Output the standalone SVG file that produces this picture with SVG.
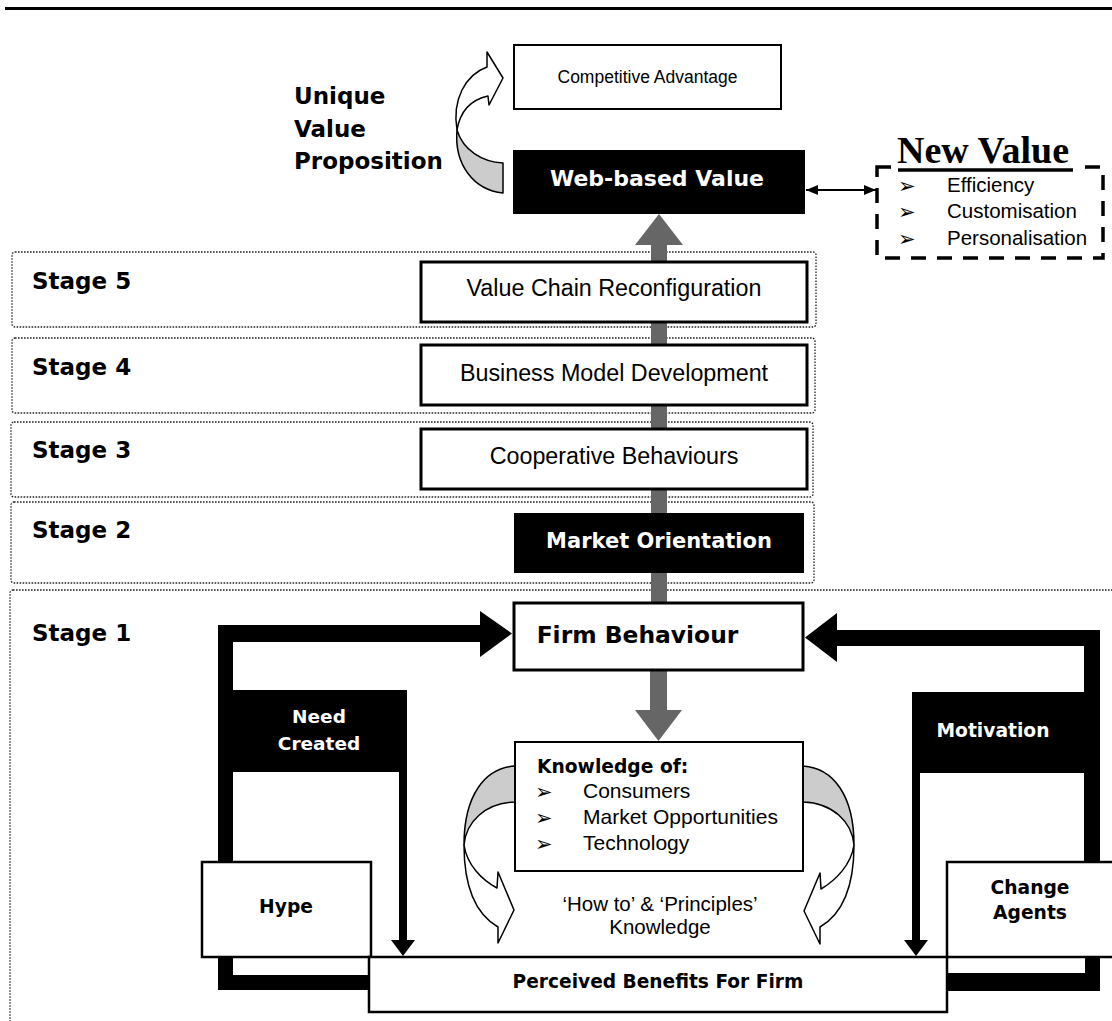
<svg xmlns="http://www.w3.org/2000/svg" width="1112" height="1021" viewBox="0 0 1112 1021">
<style>
.stage{fill:none;stroke:#222;stroke-width:1.3;stroke-dasharray:1.6 1.4}
.box{fill:#fff;stroke:#000;stroke-width:3}
.thin{fill:#fff;stroke:#000;stroke-width:2}
.blk{fill:#000}
.bold{font-family:"DejaVu Sans",Verdana,sans-serif;font-weight:bold}
.reg{font-family:"Liberation Sans",Arial,sans-serif}
.bul{font-family:"DejaVu Sans",sans-serif;font-size:21px}
.wt{fill:#fff}
.gray{fill:#666}
.curv{stroke:#000;stroke-width:1.5;stroke-linejoin:round}
</style>
<defs>
<marker id="ah" viewBox="0 0 12 10" refX="12" refY="5" markerWidth="12" markerHeight="10" markerUnits="userSpaceOnUse" orient="auto-start-reverse">
<path d="M0,0 L12,5 L0,10 z" fill="#000"/>
</marker>
<clipPath id="nvclip"><rect x="880" y="172" width="222" height="74"/></clipPath>
</defs>

<line x1="5" y1="8.5" x2="1112" y2="8.5" stroke="#000" stroke-width="3"/>

<g id="stages">
<rect class="stage" x="12" y="252" width="804" height="75" rx="3"/>
<rect class="stage" x="12" y="338" width="803" height="75" rx="3"/>
<rect class="stage" x="11" y="422" width="802" height="75" rx="3"/>
<rect class="stage" x="11" y="502" width="803" height="81" rx="3"/>
<rect class="stage" x="10" y="590" width="1125" height="500" rx="3"/>
<text class="bold" font-size="23" x="32" y="289">Stage 5</text>
<text class="bold" font-size="23" x="32" y="375">Stage 4</text>
<text class="bold" font-size="23" x="32" y="458">Stage 3</text>
<text class="bold" font-size="23" x="32" y="538">Stage 2</text>
<text class="bold" font-size="23" x="32" y="641">Stage 1</text>
</g>

<g id="connectors">
<rect class="gray" x="651" y="244" width="16" height="360"/>
<polygon class="gray" points="635,245 683,245 659,214"/>
<rect class="gray" x="650" y="669" width="17" height="42"/>
<polygon class="gray" points="635,710 682,710 658.5,741"/>
<rect class="blk" x="218" y="625" width="263" height="17"/>
<polygon class="blk" points="480,611 512,633.5 480,657"/>
<rect class="blk" x="218" y="625" width="15" height="240"/>
<rect class="blk" x="399" y="770" width="8" height="171"/>
<polygon class="blk" points="391,940 415,940 403,956"/>
<rect class="blk" x="218" y="955" width="15" height="35"/>
<rect class="blk" x="218" y="975" width="153" height="15"/>
<rect class="blk" x="836" y="630" width="264" height="16"/>
<polygon class="blk" points="837,613 805,637.5 837,662"/>
<rect class="blk" x="1084" y="630" width="16" height="235"/>
<rect class="blk" x="912" y="770" width="8" height="171"/>
<polygon class="blk" points="904,940 928,940 916,956"/>
<rect class="blk" x="1085" y="955" width="15" height="36"/>
<rect class="blk" x="945" y="973" width="155" height="18"/>
<line x1="806" y1="190" x2="876" y2="190" stroke="#000" stroke-width="2" marker-start="url(#ah)" marker-end="url(#ah)"/>
<path class="curv" fill="#ccc" d="M457,130 C463,150 482,162 503,163 L503,193 C474,190 454,165 457,130 Z"/>
<path class="curv" fill="#fff" d="M457,130 C452,100 465,75 487,67 L487,52 L503,78 L489,105 L488,96 C470,100 460,112 457,130 Z"/>
<path class="curv" fill="#ccc" d="M515,766 C485,768 464,795 464,845 C466,822 485,803 515,802 Z"/>
<path class="curv" fill="#fff" d="M464,845 C464,880 472,912 498,927 L498,943 L514,910 L498,872 L497,888 C482,880 467,865 464,845 Z"/>
<path class="curv" fill="#ccc" d="M803,766 C833,768 854,795 854,845 C852,822 833,803 803,802 Z"/>
<path class="curv" fill="#fff" d="M854,845 C854,880 846,912 820,927 L820,944 L804,911 L820,873 L821,889 C836,880 851,865 854,845 Z"/>
</g>

<g id="competitive-advantage">
<rect x="514" y="45" width="267" height="64" fill="#fff" stroke="#000" stroke-width="2"/>
<text class="reg" font-size="17.5" x="647.5" y="83" text-anchor="middle">Competitive Advantage</text>
</g>

<g id="uvp">
<text class="bold" font-size="23" x="294" y="104">Unique</text>
<text class="bold" font-size="23" x="294" y="137">Value</text>
<text class="bold" font-size="23" x="294" y="169">Proposition</text>
</g>

<g id="web-based-value">
<rect class="blk" x="513" y="150" width="292" height="64"/>
<text class="bold wt" font-size="22" x="657" y="186" text-anchor="middle">Web-based Value</text>
</g>

<g id="new-value">
<rect x="877" y="167" width="226" height="91" fill="none" stroke="#000" stroke-width="3.5" stroke-dasharray="15 11"/>
<rect x="891" y="160" width="186" height="12" fill="#fff"/>
<text x="897" y="163" font-family="'Liberation Serif','Times New Roman',serif" font-weight="bold" font-size="38">New Value</text>
<line x1="898" y1="170" x2="1073" y2="170" stroke="#000" stroke-width="3.5"/>
<g clip-path="url(#nvclip)">
<text class="bul" x="898" y="193">➢</text>
<text class="reg" font-size="20.5" x="947" y="192">Efficiency</text>
<text class="bul" x="898" y="219">➢</text>
<text class="reg" font-size="20.5" x="947" y="218">Customisation</text>
<text class="bul" x="898" y="246">➢</text>
<text class="reg" font-size="20.5" x="947" y="245">Personalisation</text>
</g>
</g>

<g id="value-chain">
<rect class="box" x="421" y="262" width="386" height="60"/>
<text class="reg" font-size="23.3" x="614" y="296" text-anchor="middle">Value Chain Reconfiguration</text>
</g>
<g id="business-model">
<rect class="box" x="421" y="345" width="386" height="60"/>
<text class="reg" font-size="23.3" x="614" y="381" text-anchor="middle">Business Model Development</text>
</g>
<g id="cooperative">
<rect class="box" x="421" y="429" width="386" height="60"/>
<text class="reg" font-size="23.3" x="614" y="464" text-anchor="middle">Cooperative Behaviours</text>
</g>
<g id="market-orientation">
<rect class="blk" x="514" y="513" width="290" height="60"/>
<text class="bold wt" font-size="21" x="659" y="548" text-anchor="middle">Market Orientation</text>
</g>
<g id="firm-behaviour">
<rect class="box" x="514" y="603" width="289" height="67"/>
<text class="bold" font-size="23.4" x="637.5" y="643" text-anchor="middle">Firm Behaviour</text>
</g>

<g id="need-created">
<rect class="blk" x="218" y="690" width="189" height="82"/>
<text class="bold wt" font-size="18.5" x="319" y="723" text-anchor="middle">Need</text>
<text class="bold wt" font-size="18.5" x="319" y="750" text-anchor="middle">Created</text>
</g>
<g id="motivation">
<rect class="blk" x="912" y="692" width="188" height="81"/>
<text class="bold wt" font-size="18.7" x="993" y="737" text-anchor="middle">Motivation</text>
</g>

<g id="knowledge">
<rect class="thin" x="515" y="742" width="288" height="129"/>
<text class="bold" font-size="18.7" x="537" y="773">Knowledge of:</text>
<text class="bul" x="535" y="799">➢</text>
<text class="reg" font-size="21" x="583" y="798">Consumers</text>
<text class="bul" x="535" y="825">➢</text>
<text class="reg" font-size="21" x="583" y="824">Market Opportunities</text>
<text class="bul" x="535" y="851">➢</text>
<text class="reg" font-size="21" x="583" y="850">Technology</text>
</g>

<g id="howto">
<text class="reg" font-size="20.5" x="660" y="911" text-anchor="middle">‘How to’ &amp; ‘Principles’</text>
<text class="reg" font-size="20.5" x="660" y="934" text-anchor="middle">Knowledge</text>
</g>

<g id="hype">
<rect x="202" y="862" width="169" height="95" fill="#fff" stroke="#000" stroke-width="2.5"/>
<text class="bold" font-size="18.7" x="286" y="913" text-anchor="middle">Hype</text>
</g>
<g id="change-agents">
<rect x="947" y="862" width="175" height="95" fill="#fff" stroke="#000" stroke-width="2.5"/>
<text class="bold" font-size="18.7" x="1030" y="894" text-anchor="middle">Change</text>
<text class="bold" font-size="18.7" x="1030" y="919" text-anchor="middle">Agents</text>
</g>
<g id="perceived-benefits">
<rect x="369" y="957" width="578" height="55" fill="#fff" stroke="#000" stroke-width="2.5"/>
<text class="bold" font-size="18.6" x="658" y="988" text-anchor="middle">Perceived Benefits For Firm</text>
</g>
</svg>
